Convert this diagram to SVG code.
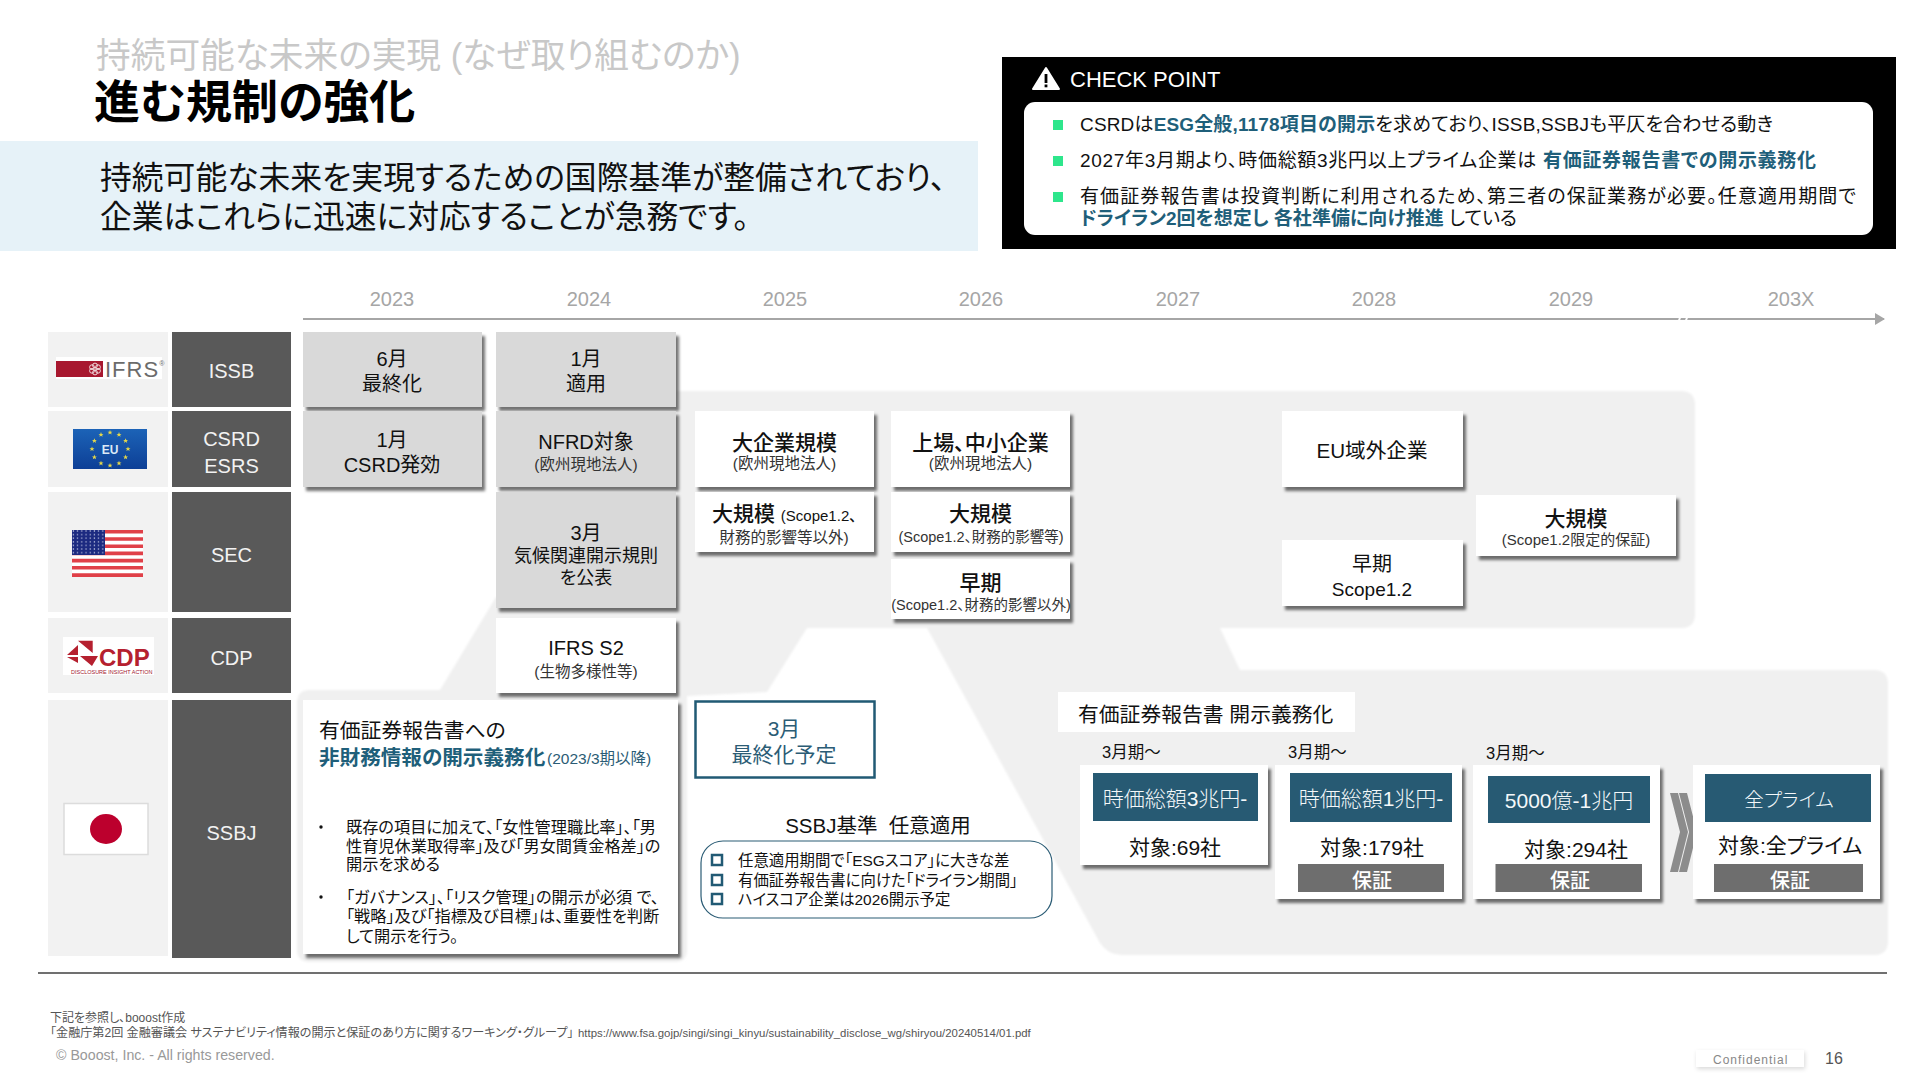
<svg xmlns="http://www.w3.org/2000/svg" width="1920" height="1080" viewBox="0 0 1920 1080">
<style>
text{font-family:"Liberation Sans","Noto Sans CJK JP",sans-serif;font-feature-settings:"palt";fill:#111}
.c{text-anchor:middle}
.yr{font-size:20px;fill:#a6a6a6;text-anchor:middle}
.lab{font-size:20px;fill:#f2f2f2;text-anchor:middle}
.t20{font-size:20px;text-anchor:middle}
.t21{font-size:21px;text-anchor:middle}
.s16{font-size:15.5px;text-anchor:middle;fill:#333}
.g{fill:#d9d9d9}
.w{fill:#fff}
.sh{filter:url(#sh)}
.sq{fill:#fff;stroke:#215a74;stroke-width:2.5}
.teal{fill:#275a73}
.tt{fill:#f4f8fa;text-anchor:middle;font-size:21px;font-weight:300}
.bar{fill:#6e6e6e}
.bt{fill:#fff;font-size:20px;text-anchor:middle;font-weight:500}
.hl{fill:#1f5f7a;font-weight:700}
.b19{font-size:19px}
.b16{font-size:16.2px}
.l15{font-size:15.4px}
.lc{fill:#f2f2f2}
.dk{fill:#595959}
.gb{fill:#2ee68c}
</style>
<defs>
<filter id="sh" x="-10%" y="-10%" width="125%" height="130%"><feDropShadow dx="3" dy="4" stdDeviation="1.7" flood-color="#000" flood-opacity=".55"/></filter>
<filter id="soft" x="-2%" y="-2%" width="104%" height="104%"><feGaussianBlur stdDeviation="1.2"/></filter>
<linearGradient id="eu" x1="0" y1="0" x2="0" y2="1"><stop offset="0" stop-color="#1c63b7"/><stop offset="1" stop-color="#0d3f96"/></linearGradient>
<polygon id="st" points="0,-2.6 .7,-.8 2.5,-.8 1.1,.3 1.6,2.1 0,1 -1.6,2.1 -1.1,.3 -2.5,-.8 -.7,-.8" fill="#e6d84a"/>
<pattern id="dots" width="4.2" height="3.6" patternUnits="userSpaceOnUse"><circle cx="2" cy="1.8" r=".7" fill="#d8dcf0"/></pattern>
<marker id="ah" markerWidth="10" markerHeight="12" refX="9" refY="6" orient="auto" markerUnits="userSpaceOnUse"><path d="M0 0L10 6L0 12Z" fill="#a6a6a6"/></marker>
</defs>

<rect width="1920" height="1080" fill="#fff"/>

<g id="panel-bg">
<path filter="url(#soft)" fill="#f0f0f0" d="M676 391H1681Q1695 391 1695 405V614Q1695 628 1681 628H1220L1240 670H1874Q1888 670 1888 684V941Q1888 955 1874 955H1122Q1108 955 1100 943L927 628H807L767 692L687 696V950Q687 962 675 962H310Q297 962 297 950V703Q297 690 310 690H440L496 597H676Z"/>
</g>

<g id="header">
<text x="96" y="68" font-size="34.7" style="fill:#c8c8c8">持続可能な未来の実現 (なぜ取り組むのか)</text>
<text x="94" y="118" font-size="46" font-weight="700" style="fill:#000">進む規制の強化</text>
<rect x="0" y="141" width="978" height="110" fill="#e6f2f8"/>
<text x="100" y="189" font-size="31.8">持続可能な未来を実現するための国際基準が整備されており、</text>
<text x="100" y="228" font-size="31.8">企業はこれらに迅速に対応することが急務です。</text>
</g>

<g id="checkpoint">
<rect x="1002" y="57" width="894" height="192" fill="#000"/>
<path d="M1046 68L1059 89H1033Z" fill="#fff" stroke="#fff" stroke-width="2" stroke-linejoin="round"/>
<rect x="1044.6" y="74" width="2.8" height="9" fill="#000"/><rect x="1044.6" y="84.5" width="2.8" height="2.8" fill="#000"/>
<text x="1070" y="87" font-size="22" style="fill:#fff">CHECK POINT</text>
<rect x="1024" y="102" width="849" height="133" rx="11" fill="#fff"/>
<rect class="gb" x="1053" y="120" width="10" height="10"/><rect class="gb" x="1053" y="156" width="10" height="10"/><rect class="gb" x="1053" y="192" width="10" height="10"/>
<text class="b19" x="1080" y="131" textLength="693">CSRDは<tspan class="hl">ESG全般,1178項目の開示</tspan>を求めており、ISSB,SSBJも平仄を合わせる動き</text>
<text class="b19" x="1080" y="167" textLength="736">2027年3月期より、時価総額3兆円以上プライム企業は <tspan class="hl">有価証券報告書での開示義務化</tspan></text>
<text class="b19" x="1080" y="203" textLength="776">有価証券報告書は投資判断に利用されるため、第三者の保証業務が必要。任意適用期間で</text>
<text class="b19" x="1080" y="225" textLength="437"><tspan class="hl">ドライラン2回を想定し 各社準備に向け推進</tspan> している</text>
</g>

<g id="connectors">
<line x1="303" y1="319" x2="1884" y2="319" stroke="#a6a6a6" stroke-width="2" marker-end="url(#ah)"/>
<path d="M1678 323L1681 315M1685 323L1688 315" stroke="#fff" stroke-width="2" fill="none"/>
</g>

<g id="years">
<text class="yr" x="392" y="306">2023</text><text class="yr" x="589" y="306">2024</text><text class="yr" x="785" y="306">2025</text><text class="yr" x="981" y="306">2026</text><text class="yr" x="1178" y="306">2027</text><text class="yr" x="1374" y="306">2028</text><text class="yr" x="1571" y="306">2029</text><text class="yr" x="1791" y="306">203X</text>
</g>

<g id="row-issb">
<rect class="lc" x="48" y="332" width="120" height="75"/>
<rect class="dk" x="172" y="332" width="119" height="75"/>
<text class="lab" x="231.5" y="378">ISSB</text>
<rect x="56" y="357" width="106" height="22" fill="#fff"/>
<rect x="56" y="361" width="47" height="16" fill="#a8182f"/>
<g fill="none" stroke="#f4e6e8" stroke-width=".9"><circle cx="95" cy="365.5" r="2.4"/><circle cx="95" cy="372.5" r="2.4"/><circle cx="92" cy="367.2" r="2.4"/><circle cx="98" cy="367.2" r="2.4"/><circle cx="92" cy="370.8" r="2.4"/><circle cx="98" cy="370.8" r="2.4"/></g>
<text x="105" y="377" font-size="22" style="fill:#6b6b6b" letter-spacing="1">IFRS<tspan font-size="7" dy="-11">®</tspan></text>
</g>
<g id="row-csrd">
<rect class="lc" x="48" y="411" width="120" height="76"/>
<rect class="dk" x="172" y="411" width="119" height="76"/>
<text class="lab" x="231.5" y="446">CSRD</text><text class="lab" x="231.5" y="473">ESRS</text>
<rect x="73" y="429" width="74" height="40" fill="url(#eu)"/>
<use href="#st" x="110" y="432.5"/><use href="#st" x="119" y="434.7"/><use href="#st" x="125.6" y="440.8"/><use href="#st" x="128" y="449"/><use href="#st" x="125.6" y="457.2"/><use href="#st" x="119" y="463.3"/><use href="#st" x="110" y="465.5"/><use href="#st" x="101" y="463.3"/><use href="#st" x="94.4" y="457.2"/><use href="#st" x="92" y="449"/><use href="#st" x="94.4" y="440.8"/><use href="#st" x="101" y="434.7"/>
<text class="c" x="110" y="454" font-size="12" font-weight="700" style="fill:#dbe9f7">EU</text>
</g>
<g id="row-sec">
<rect class="lc" x="48" y="492" width="120" height="120"/>
<rect class="dk" x="172" y="492" width="119" height="120"/>
<text class="lab" x="231.5" y="562">SEC</text>
<rect x="72" y="530" width="71" height="47" fill="#fff"/>
<path fill="#e04048" d="M72 530h71v3.6H72zM72 537.2h71v3.6H72zM72 544.4h71v3.6H72zM72 551.6h71v3.6H72zM72 558.8h71v3.6H72zM72 566h71v3.6H72zM72 573.2h71v3.8H72z"/>
<rect x="72" y="530" width="33" height="25" fill="#1c2a80"/><rect x="72" y="530" width="33" height="25" fill="url(#dots)"/>
</g>
<g id="row-cdp">
<rect class="lc" x="48" y="618" width="120" height="75"/>
<rect class="dk" x="172" y="618" width="119" height="75"/>
<text class="lab" x="231.5" y="665">CDP</text>
<rect x="63" y="637" width="91" height="38" fill="#fff"/>
<path fill="#b5202f" d="M78 640.7H92.7V653ZM67 655L78 645V655ZM67 657H78V663ZM80 656H98L92 666Z"/>
<text x="99" y="666" font-size="24" font-weight="700" style="fill:#b5202f">CDP</text>
<text x="71" y="673.5" font-size="5.5" style="fill:#a32030">DISCLOSURE INSIGHT ACTION</text>
</g>
<g id="row-ssbj">
<rect class="lc" x="48" y="700" width="120" height="256"/>
<rect class="dk" x="172" y="700" width="119" height="258"/>
<text class="lab" x="231.5" y="840">SSBJ</text>
<rect x="64" y="803.5" width="84" height="51" fill="#fff" stroke="#dcdcdc" stroke-width="1.5"/>
<ellipse cx="106" cy="829" rx="16" ry="15" fill="#bc002d"/>
</g>

<g id="n-issb-2023"><rect class="g sh" x="303" y="332" width="179" height="75"/><text class="t20" x="392" y="366">6月</text><text class="t20" x="392" y="391">最終化</text></g>
<g id="n-issb-2024"><rect class="g sh" x="496" y="332" width="180" height="75"/><text class="t20" x="586" y="366">1月</text><text class="t20" x="586" y="391">適用</text></g>
<g id="n-csrd-2023"><rect class="g sh" x="303" y="411" width="179" height="76"/><text class="t20" x="392" y="447">1月</text><text class="t20" x="392" y="472">CSRD発効</text></g>
<g id="n-nfrd"><rect class="g sh" x="496" y="411" width="180" height="76"/><text class="t20" x="586" y="449">NFRD対象</text><text class="s16" x="586" y="470">(欧州現地法人)</text></g>
<g id="n-sec-2024"><rect class="g sh" x="496" y="492" width="180" height="116"/><text class="t20" x="586" y="540">3月</text><text class="c" font-size="18" x="586" y="562">気候関連開示規則</text><text class="c" font-size="18" x="586" y="584">を公表</text></g>
<g id="n-ifrs-s2"><rect class="w sh" x="496" y="618" width="180" height="75"/><text class="t20" x="586" y="655">IFRS S2</text><text class="s16" x="586" y="677">(生物多様性等)</text></g>

<g id="n-large"><rect class="w sh" x="695" y="411" width="179" height="76"/><text class="t21" x="784.5" y="450" font-weight="500">大企業規模</text><text class="s16" x="784.5" y="469">(欧州現地法人)</text></g>
<g id="n-listed"><rect class="w sh" x="891" y="411" width="179" height="76"/><text class="t21" x="980.5" y="450" font-weight="500">上場、中小企業</text><text class="s16" x="980.5" y="469">(欧州現地法人)</text></g>
<g id="n-sec-large"><rect class="w sh" x="695" y="492" width="179" height="60"/><text x="712" y="521" font-size="21" font-weight="500">大規模 <tspan font-size="15">(Scope1.2、</tspan></text><text class="c" font-size="15.5" x="784" y="543" style="fill:#333">財務的影響等以外)</text></g>
<g id="n-sec-large2"><rect class="w sh" x="891" y="492" width="179" height="60"/><text class="t21" x="980.5" y="521" font-weight="500">大規模</text><text class="c" font-size="14.5" x="981" y="542" style="fill:#333">(Scope1.2、財務的影響等)</text></g>
<g id="n-sec-early"><rect class="w sh" x="891" y="559" width="179" height="60"/><text class="t21" x="980.5" y="590" font-weight="500">早期</text><text class="c" font-size="14.5" x="981" y="610" style="fill:#333">(Scope1.2、財務的影響以外)</text></g>
<g id="n-eu-ext"><rect class="w sh" x="1282" y="411" width="181" height="76"/><text class="c" font-size="20.6" x="1372" y="458">EU域外企業</text></g>
<g id="n-early-s12"><rect class="w sh" x="1282" y="540" width="181" height="66"/><text class="t20" x="1372" y="571">早期</text><text class="c" font-size="19" x="1372" y="596">Scope1.2</text></g>
<g id="n-large-s12"><rect class="w sh" x="1476" y="495" width="200" height="61"/><text class="t21" x="1576" y="526" font-weight="500">大規模</text><text class="c" font-size="15" x="1576" y="545" style="fill:#333">(Scope1.2限定的保証)</text></g>

<g id="n-ssbj-main">
<rect class="w sh" x="303" y="700" width="375" height="254"/>
<text x="319" y="738" font-size="20.8">有価証券報告書への</text>
<text x="319" y="765" font-size="20.6" class="hl">非財務情報の開示義務化</text>
<text x="547" y="764" font-size="15.5" style="fill:#2b5c75">(2023/3期以降)</text>
<circle cx="321" cy="827" r="1.7" fill="#111"/>
<text class="b16" x="346" y="833">既存の項目に加えて、「女性管理職比率」、「男</text>
<text class="b16" x="346" y="852">性育児休業取得率」及び「男女間賃金格差」の</text>
<text class="b16" x="346" y="870">開示を求める</text>
<circle cx="321" cy="897" r="1.7" fill="#111"/>
<text class="b16" x="346" y="903">「ガバナンス」、「リスク管理」の開示が必須 で、</text>
<text class="b16" x="346" y="922">「戦略」及び「指標及び目標」は、重要性を判断</text>
<text class="b16" x="346" y="942">して開示を行う。</text>
</g>

<g id="n-ssbj-final">
<rect x="695.5" y="701.5" width="179" height="76" fill="#fff" stroke="#215a74" stroke-width="2.5"/>
<text class="t21" x="784" y="736" style="fill:#2b5c75">3月</text><text class="t21" x="784" y="762" style="fill:#2b5c75">最終化予定</text>
</g>
<g id="n-ssbj-optional">
<text class="c" font-size="20.5" x="878" y="833">SSBJ基準&#160;&#160;任意適用</text>
<rect x="701" y="841" width="351" height="77" rx="22" fill="#fff" stroke="#2b5c75" stroke-width="1.2"/>
<rect class="sq" x="712" y="855" width="10" height="10"/><rect class="sq" x="712" y="875" width="10" height="10"/><rect class="sq" x="712" y="894" width="10" height="10"/>
<text class="l15" x="738" y="866">任意適用期間で「ESGスコア」に大きな差</text>
<text class="l15" x="738" y="886">有価証券報告書に向けた「ドライラン期間」</text>
<text class="l15" x="738" y="905">ハイスコア企業は2026開示予定</text>
</g>

<g id="n-mandate-title">
<rect x="1058" y="692" width="297" height="40" fill="#fff"/>
<text x="1078" y="722" font-size="20.8">有価証券報告書 開示義務化</text>
</g>
<g id="n-tier1">
<text x="1102" y="758" font-size="16.5">3月期～</text>
<rect class="w sh" x="1080" y="765" width="188" height="100"/>
<rect class="teal" x="1093" y="773" width="165" height="48"/>
<text class="tt" x="1175" y="806">時価総額3兆円-</text>
<text class="t21" x="1175" y="855">対象:69社</text>
</g>
<g id="n-tier2">
<text x="1288" y="758" font-size="16.5">3月期～</text>
<rect class="w sh" x="1275" y="765" width="187" height="134"/>
<rect class="teal" x="1290" y="773" width="162" height="49"/>
<text class="tt" x="1371" y="806">時価総額1兆円-</text>
<text class="t21" x="1372" y="855">対象:179社</text>
<rect class="bar" x="1298" y="864" width="146" height="28"/><text class="bt" x="1372" y="888">保証</text>
</g>
<g id="n-tier3">
<text x="1486" y="759" font-size="16.5">3月期～</text>
<rect class="w sh" x="1473" y="765" width="187" height="134"/>
<rect class="teal" x="1488" y="776" width="162" height="47"/>
<text class="tt" x="1569" y="808">5000億-1兆円</text>
<text class="t21" x="1576" y="857">対象:294社</text>
<rect class="bar" x="1495.5" y="864" width="146.5" height="28"/><text class="bt" x="1570" y="888">保証</text>
</g>
<g id="n-chevron"><path fill="#8c8c8c" d="M1670 793H1678L1688 832L1678 872H1670L1680 832ZM1679 793H1687L1697 832L1687 872H1679L1689 832Z"/></g>
<g id="n-tier4">
<rect class="w sh" x="1693" y="765" width="187" height="134"/>
<rect class="teal" x="1705" y="774" width="166" height="48"/>
<text class="tt" x="1789" y="807" style="font-size:19.5px">全プライム</text>
<text class="t21" x="1790" y="853">対象:全プライム</text>
<rect class="bar" x="1714" y="864" width="149" height="28"/><text class="bt" x="1790" y="888">保証</text>
</g>

<g id="footer">
<line x1="38" y1="973" x2="1887" y2="973" stroke="#404040" stroke-width="1.6"/>
<text x="50" y="1022" font-size="12" style="fill:#555">下記を参照し、booost作成</text>
<text x="50" y="1037" font-size="12.1" style="fill:#555">「金融庁第2回 金融審議会 サステナビリティ情報の開示と保証のあり方に関するワーキング・グループ」 </text>
<text x="578" y="1037" font-size="11.4" style="fill:#555">https://www.fsa.gojp/singi/singi_kinyu/sustainability_disclose_wg/shiryou/20240514/01.pdf</text>
<text x="56" y="1060" font-size="14.2" style="fill:#999">© Booost, Inc. - All rights reserved.</text>
<rect x="1696" y="1050" width="108" height="17" fill="#fff" style="filter:drop-shadow(1px 2px 2px rgba(0,0,0,.15))"/>
<text x="1713" y="1064" font-size="12" letter-spacing="1" style="fill:#888">Confidential</text>
<text x="1825" y="1064" font-size="16" style="fill:#555">16</text>
</g>
</svg>
